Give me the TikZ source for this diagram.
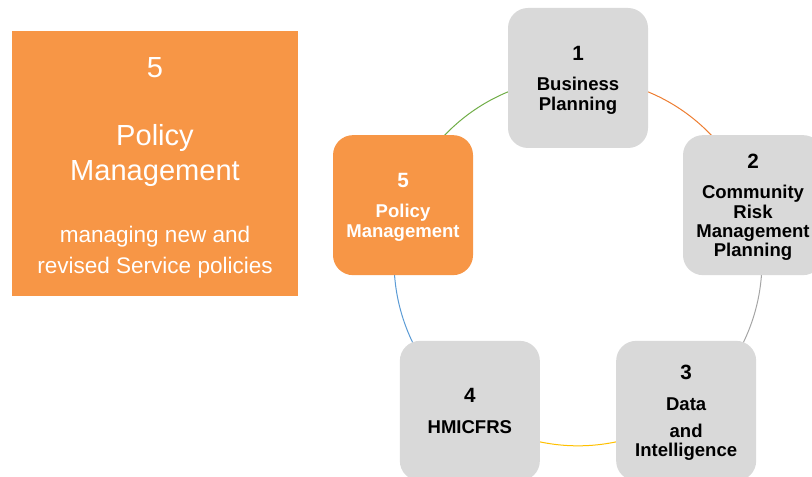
\documentclass[tikz,border=0pt]{standalone}
\usepackage{fontspec}
\setmainfont{Liberation Sans}
\usetikzlibrary{positioning, backgrounds, calc}

\definecolor{planorange}{HTML}{F79646}
\definecolor{boxgrey}{HTML}{D9D9D9}
\definecolor{arcorange}{HTML}{ED7D31}
\definecolor{arcgrey}{HTML}{A5A5A5}
\definecolor{arcgold}{HTML}{FFC000}
\definecolor{arcblue}{HTML}{5B9BD5}
\definecolor{arcgreen}{HTML}{70AD47}

\newcommand{\smalltxt}{\fontsize{16.9}{22.5}\selectfont}
\newcommand{\stagenum}{\fontsize{15.5}{14.5}\selectfont}

\begin{document}
\begin{tikzpicture}[
  x=0.75pt, y=0.75pt,
  stage/.style={rectangle, rounded corners=15pt, fill=boxgrey, minimum width=105pt, minimum height=105pt, inner sep=0pt, text depth=0pt, align=center, font=\fontsize{13.9}{14.5}\selectfont\bfseries},
  current/.style={stage, fill=planorange, text=white},
  panel/.style={rectangle, fill=planorange, minimum width=214.5pt, minimum height=198.75pt, inner sep=0pt},
  paneltext/.style={text=white, align=center, inner sep=0pt, font=\fontsize{21.8}{26.25}\selectfont},
  link/.style={line width=0.75pt}
]
  \useasboundingbox (0,0) rectangle (812,-477);

  % detail panel on the left
  \node[panel] (policy) at (155,-163.5) {};
  \node[paneltext] (policytext) at (155,-168) {%
    5\\[24.75pt]
    Policy\\
    Management\\[20pt]
    \smalltxt managing new and\\[-3pt]
    \smalltxt revised Service policies};

  % the five stages round the cycle
  \coordinate (hub) at (578,-262);
  \node[stage] (b1) at ([shift={(90:184)}]hub) {\stagenum 1\\[8.5pt]Business\\Planning};
  \node[stage] (b2) at ([shift={(18:184)}]hub) {\stagenum 2\\[8.5pt]Community\\Risk\\Management\\Planning};
  \node[stage] (b3) at ([shift={(-54:184)}]hub) {\stagenum 3\\[8.5pt]Data\\[6pt]and\\Intelligence};
  \node[stage] (b4) at ([shift={(-126:184)}]hub) {\stagenum 4\\[8.5pt]HMICFRS};
  \node[current] (b5) at ([shift={(162:184)}]hub) {\stagenum 5\\[8.5pt]Policy\\Management};

  \begin{scope}[on background layer]
    \draw[link, arcorange] (b1.center) to[bend left=36, looseness=0.94] (b2.center);
    \draw[link, arcgrey] (b2.center) to[bend left=36, looseness=0.94] (b3.center);
    \draw[link, arcgold] (b3.center) to[bend left=36, looseness=0.94] (b4.center);
    \draw[link, arcblue] (b4.center) to[bend left=36, looseness=0.94] (b5.center);
    \draw[link, arcgreen] (b5.center) to[bend left=36, looseness=0.94] (b1.center);
  \end{scope}
\end{tikzpicture}
\end{document}
